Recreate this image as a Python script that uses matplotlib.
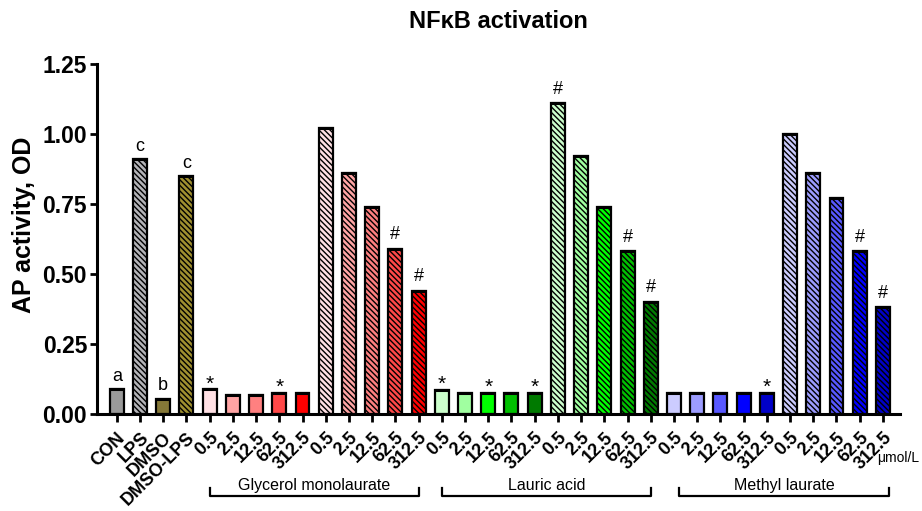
import matplotlib.pyplot as plt

plt.rcParams['font.family'] = ['Liberation Sans', 'DejaVu Sans']
plt.rcParams['hatch.linewidth'] = 1.0

# Data
kontroll_navn = ['CON', 'LPS', 'DMSO', 'DMSO-LPS']
kontroll_verdi = [0.09, 0.91, 0.055, 0.85]
kontroll_farge = ['#9a9a9a', '#b4b4b8', '#857838', '#a09030']
kontroll_hatch = [False, True, False, True]
kontroll_bokstav = ['a', 'c', 'b', 'c']

doser = ['0.5', '2.5', '12.5', '62.5', '312.5']
grupper = ['Glycerol monolaurate', 'Lauric acid', 'Methyl laurate']

# uten LPS / med LPS for hver gruppe
gml_uten = [0.088, 0.067, 0.067, 0.076, 0.076]
gml_med = [1.02, 0.86, 0.74, 0.59, 0.44]
la_uten = [0.085, 0.076, 0.076, 0.076, 0.076]
la_med = [1.11, 0.92, 0.74, 0.58, 0.40]
ml_uten = [0.076, 0.076, 0.076, 0.076, 0.076]
ml_med = [1.00, 0.86, 0.77, 0.58, 0.38]

gml_farge = ['#ffe0e4', '#ffa4a4', '#ff8080', '#ff4848', '#ff0000']
la_farge = ['#ccffcc', '#a0ffa0', '#00ff00', '#00c000', '#007a00']
ml_farge = ['#ccccff', '#9c9cff', '#5858ff', '#0000ff', '#0000c8']

# signifikans-merker (samme rekkefolge som doser)
gml_uten_merke = ['*', '', '', '*', '']
gml_med_merke = ['', '', '', '#', '#']
la_uten_merke = ['*', '', '*', '', '*']
la_med_merke = ['#', '', '', '#', '#']
ml_uten_merke = ['', '', '', '', '*']
ml_med_merke = ['', '', '', '#', '#']

# Bygg opp lister for alle stolpene
verdier = list(kontroll_verdi)
farger = list(kontroll_farge)
hatcher = list(kontroll_hatch)
etiketter = list(kontroll_navn)
merker = list(kontroll_bokstav)
for uten, med, farge, m_uten, m_med in [
        (gml_uten, gml_med, gml_farge, gml_uten_merke, gml_med_merke),
        (la_uten, la_med, la_farge, la_uten_merke, la_med_merke),
        (ml_uten, ml_med, ml_farge, ml_uten_merke, ml_med_merke)]:
    verdier += uten + med
    farger += farge + farge
    hatcher += [False] * 5 + [True] * 5
    etiketter += doser + doser
    merker += m_uten + m_med

x = list(range(len(verdier)))

fig = plt.figure(figsize=(9.22, 5.11), dpi=100)
ax = fig.add_axes([0.105, 0.19, 0.871, 0.685])

for i in x:
    ax.bar(i, verdier[i], width=0.6, color=farger[i], edgecolor='black',
           linewidth=1.6, hatch='\\\\\\\\\\\\' if hatcher[i] else None, zorder=2)
    # liten feilstrek paa toppen
    ax.plot([i - 0.3, i + 0.3], [verdier[i], verdier[i]], color='black', lw=2.2,
            solid_capstyle='butt', zorder=3)
    m = merker[i]
    if m in ('a', 'b', 'c'):
        ax.annotate(m, (i, verdier[i]), xytext=(0, 3), textcoords='offset points',
                    ha='center', va='bottom', fontsize=13)
    elif m == '#':
        ax.annotate(m, (i, verdier[i]), xytext=(0, 4), textcoords='offset points',
                    ha='center', va='bottom', fontsize=13)
    elif m == '*':
        ax.annotate(m, (i, verdier[i]), xytext=(0, -3), textcoords='offset points',
                    ha='center', va='bottom', fontsize=15)

ax.set_xlim(-0.86, len(verdier) - 1 + 0.73)
ax.set_ylim(0, 1.25)
ax.set_yticks([0, 0.25, 0.5, 0.75, 1.0, 1.25])
ax.set_yticklabels(['0.00', '0.25', '0.50', '0.75', '1.00', '1.25'],
                   fontsize=16.5, fontweight='bold')
ax.set_xticks(x)
ax.set_xticklabels(etiketter, rotation=45, ha='right', rotation_mode='anchor',
                   fontsize=13, fontweight='bold')
ax.tick_params(axis='y', length=5, width=2, pad=2)
ax.tick_params(axis='x', length=6, width=2, pad=5)

for s in ['top', 'right']:
    ax.spines[s].set_visible(False)
for s in ['left', 'bottom']:
    ax.spines[s].set_linewidth(2.2)

ax.set_ylabel('AP activity, OD', fontsize=18, fontweight='bold')
ax.yaxis.set_label_coords(-0.076, 0.54)
ax.set_title('NF\u03baB activation', fontsize=17, fontweight='bold', pad=26)

# Gruppe-klammer under aksen
trans = ax.get_xaxis_transform()
for navn, start, slutt in [(grupper[0], 4, 13), (grupper[1], 14, 23), (grupper[2], 24.22, 33.25)]:
    ax.plot([start, start, slutt, slutt], [-0.211, -0.234, -0.234, -0.211],
            color='black', lw=1.6, transform=trans, clip_on=False)
    ax.text((start + slutt) / 2, -0.205, navn, transform=trans, ha='center',
            va='center', fontsize=11.5)

ax.text(0.972, -0.126, '\u03bcmol/L', transform=ax.transAxes, ha='left',
        va='center', fontsize=10)

plt.savefig('out.png', dpi=100)
